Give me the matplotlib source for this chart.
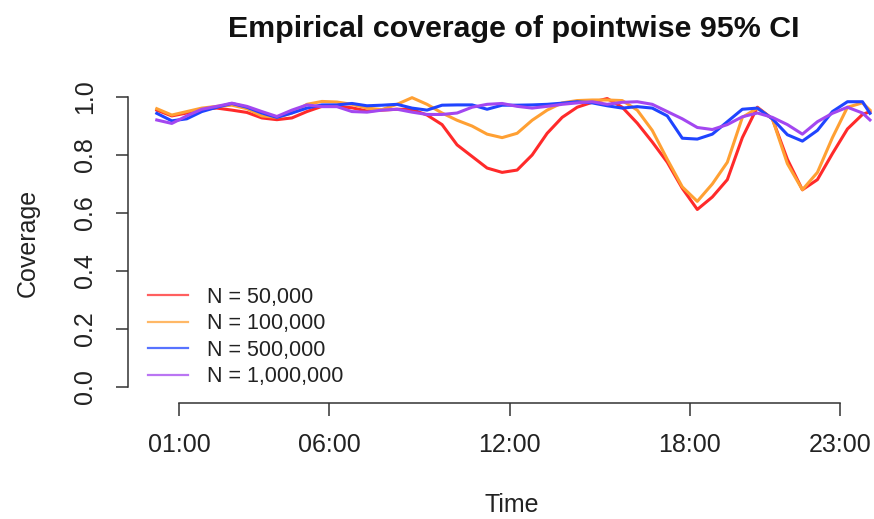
import matplotlib
matplotlib.use("Agg")
from matplotlib import pyplot as plt

plt.rcParams["font.family"] = ["Liberation Sans", "DejaVu Sans"]

# hour of day for each reading
hours = [
    0.25, 0.75, 1.25, 1.75, 2.25, 2.75, 3.25, 3.75, 4.25, 4.75, 5.25, 5.75,
    6.25, 6.75, 7.25, 7.75, 8.25, 8.75, 9.25, 9.75, 10.25, 10.75, 11.25, 11.75,
    12.25, 12.75, 13.25, 13.75, 14.25, 14.75, 15.25, 15.75, 16.25, 16.75, 17.25, 17.75,
    18.25, 18.75, 19.25, 19.75, 20.25, 20.75, 21.25, 21.75, 22.25, 22.75, 23.25, 23.75,
    24.0,
]

cov_50k = [
    0.955, 0.935, 0.945, 0.958, 0.962, 0.955, 0.947, 0.928, 0.922, 0.928, 0.950, 0.968,
    0.968, 0.963, 0.952, 0.955, 0.958, 0.957, 0.938, 0.905, 0.835, 0.795, 0.755, 0.740,
    0.748, 0.800, 0.875, 0.930, 0.965, 0.982, 0.995, 0.965, 0.910, 0.845, 0.775, 0.685,
    0.612, 0.655, 0.715, 0.860, 0.965, 0.925, 0.785, 0.680, 0.715, 0.805, 0.890, 0.940,
    0.950,
]
cov_100k = [
    0.960, 0.938, 0.950, 0.962, 0.968, 0.972, 0.960, 0.935, 0.930, 0.945, 0.975, 0.985,
    0.983, 0.975, 0.962, 0.957, 0.975, 0.998, 0.975, 0.945, 0.920, 0.900, 0.872, 0.860,
    0.875, 0.920, 0.955, 0.980, 0.988, 0.990, 0.990, 0.988, 0.955, 0.885, 0.785, 0.690,
    0.640, 0.700, 0.775, 0.930, 0.962, 0.925, 0.770, 0.680, 0.740, 0.860, 0.965, 0.980,
    0.955,
]
cov_500k = [
    0.944, 0.918, 0.925, 0.950, 0.965, 0.978, 0.965, 0.945, 0.930, 0.945, 0.962, 0.973,
    0.973, 0.978, 0.970, 0.972, 0.975, 0.962, 0.955, 0.972, 0.973, 0.973, 0.958, 0.972,
    0.972, 0.973, 0.975, 0.979, 0.984, 0.980, 0.970, 0.962, 0.967, 0.962, 0.935, 0.858,
    0.855, 0.872, 0.915, 0.958, 0.962, 0.925, 0.870, 0.848, 0.885, 0.950, 0.984, 0.984,
    0.944,
]
cov_1m = [
    0.921, 0.909, 0.935, 0.958, 0.968, 0.979, 0.968, 0.950, 0.933, 0.955, 0.973, 0.967,
    0.967, 0.950, 0.948, 0.955, 0.958, 0.948, 0.940, 0.940, 0.945, 0.965, 0.975, 0.978,
    0.968, 0.962, 0.968, 0.975, 0.980, 0.984, 0.975, 0.982, 0.984, 0.975, 0.950, 0.925,
    0.895, 0.888, 0.905, 0.932, 0.945, 0.930, 0.905, 0.872, 0.915, 0.944, 0.965, 0.945,
    0.921,
]

labels = ["N = 50,000", "N = 100,000", "N = 500,000", "N = 1,000,000"]
colors = ["#ff2a2a", "#ffa033", "#1f44ff", "#a347f0"]

tick_hours = [1, 6, 12, 18, 23]
tick_labels = ["01:00", "06:00", "12:00", "18:00", "23:00"]

W, H = 874, 519
fig = plt.figure(figsize=(W / 100, H / 100), dpi=100)

left, right, top, bottom = 128, 874, 85.5, 398.3
ax = fig.add_axes([left / W, 1 - bottom / H, (right - left) / W, (bottom - top) / H])

for y, c in zip([cov_50k, cov_100k, cov_500k, cov_1m], colors):
    ax.plot(hours, y, color=c, lw=2.2, solid_joinstyle="round")

ax.set_xlim(-0.708, 24.134)
ax.set_ylim(-0.04, 1.04)

for s in ["top", "right"]:
    ax.spines[s].set_visible(False)
ax.spines["left"].set_bounds(0, 1)
ax.spines["bottom"].set_bounds(1, 23)
ax.spines["bottom"].set_position(("outward", 3.5))
for s in ["left", "bottom"]:
    ax.spines[s].set_color("#333333")
    ax.spines[s].set_linewidth(1.1)

ax.set_xticks(tick_hours)
ax.set_xticklabels(tick_labels)
ax.set_yticks([0.0, 0.2, 0.4, 0.6, 0.8, 1.0])
ax.set_yticklabels(["0.0", "0.2", "0.4", "0.6", "0.8", "1.0"], rotation=90, va="center")
ax.tick_params(axis="both", length=9, width=1.1, color="#333333",
               labelsize=18, labelcolor="#222222")
ax.tick_params(axis="x", pad=12.5)
ax.tick_params(axis="y", pad=13.5)

handles = [plt.Line2D([], [], color=c, lw=1.6, alpha=0.75) for c in colors]
ax.legend(handles, labels, loc="upper left", bbox_to_anchor=(148 / W, 1 - 287 / H),
          bbox_transform=fig.transFigure, frameon=False, fontsize=15.5,
          handlelength=1.86, handletextpad=0.88, labelspacing=0.25,
          borderpad=0, borderaxespad=0, labelcolor="#222222")

fig.text(514 / W, 1 - 29 / H, "Empirical coverage of pointwise 95% CI",
         ha="center", va="center", fontsize=21.9, fontweight="bold", color="#111111")
fig.text(512 / W, 1 - 505 / H, "Time", ha="center", va="center", fontsize=18,
         color="#222222")
fig.text(28 / W, 1 - 243 / H, "Coverage", ha="center", va="center", fontsize=18,
         rotation=90, color="#222222")

fig.savefig("out.png", dpi=100)
